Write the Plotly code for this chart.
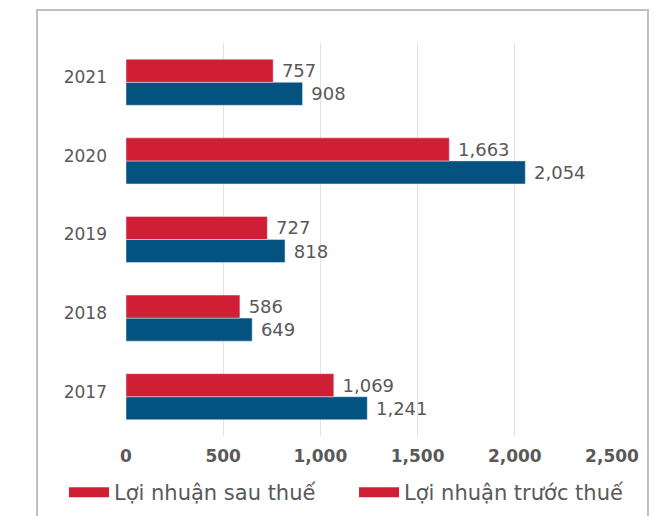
import plotly.graph_objects as go

years = ["2017", "2018", "2019", "2020", "2021"]
after_tax = [1069, 586, 727, 1663, 757]
before_tax = [1241, 649, 818, 2054, 908]
x_ticks = [0, 500, 1000, 1500, 2000, 2500]
x_tick_labels = ["0", "500", "1,000", "1,500", "2,000", "2,500"]
name_after = "Lợi nhuận sau thuế"
name_before = "Lợi nhuận trước thuế"
unit_text = "Đơn vị: tỷ đồng"

RED = "#D01F34"
BLUE = "#04527F"
GRAY = "#595959"
FONT = "DejaVu Sans, sans-serif"

fig = go.Figure()
fig.add_trace(go.Bar(y=years, x=before_tax, orientation="h", marker_color=BLUE,
                     name=name_before, showlegend=False,
                     texttemplate=" %{x:,}", textposition="outside",
                     textfont=dict(color=GRAY, size=18, family=FONT), cliponaxis=False))
fig.add_trace(go.Bar(y=years, x=after_tax, orientation="h", marker_color=RED,
                     name=name_after, showlegend=False,
                     texttemplate=" %{x:,}", textposition="outside",
                     textfont=dict(color=GRAY, size=18, family=FONT), cliponaxis=False))
# legend entries (the original legend shows both swatches in red)
for nm, lg in [(name_after, "legend"), (name_before, "legend2")]:
    fig.add_trace(go.Scatter(x=[None], y=[None], mode="lines", name=nm, legend=lg,
                             line=dict(color=RED, width=17), showlegend=True))

legend_common = dict(orientation="h", xref="container", yref="container",
                     xanchor="left", y=0.085, yanchor="top",
                     font=dict(size=21, color=GRAY, family=FONT), itemwidth=40)

fig.update_layout(
    width=655, height=516,
    margin=dict(l=126, r=43, t=43, b=80, autoexpand=False),
    paper_bgcolor="white", plot_bgcolor="white",
    barmode="group", bargap=0.414, bargroupgap=0,
    font=dict(family=FONT, color=GRAY),
    xaxis=dict(range=[0, 2500], tickvals=x_ticks, ticktext=x_tick_labels,
               showgrid=True, gridcolor="#E3E3E3", gridwidth=1, zeroline=False,
               tickfont=dict(size=17, color=GRAY, family=FONT, weight="bold"),
               ticks="", showline=False, fixedrange=True, ticklabelstandoff=8),
    yaxis=dict(showgrid=False, zeroline=False, showline=False, ticks="",
               tickfont=dict(size=17, color=GRAY, family=FONT), ticklabelstandoff=18,
               ticklabelshift=-5, range=[-0.5, 4.5]),
    legend=dict(x=0.0977, **legend_common),
    legend2=dict(x=0.5405, **legend_common),
    showlegend=True,
    shapes=[dict(type="rect", xref="paper", yref="paper", x0=-0.183, x1=1.074,
                 y0=-0.4, y1=1.084, line=dict(color="#BFBFBF", width=2),
                 fillcolor="rgba(0,0,0,0)", layer="below")],
    annotations=[dict(text=unit_text, xref="paper", yref="paper", x=0.135, y=1.104,
                      xanchor="right", yanchor="bottom", showarrow=False,
                      font=dict(size=18, color=GRAY, family=FONT))],
)
fig.write_html("out.html", config={"displayModeBar": False},
               post_script="document.body.style.margin='0px';")
